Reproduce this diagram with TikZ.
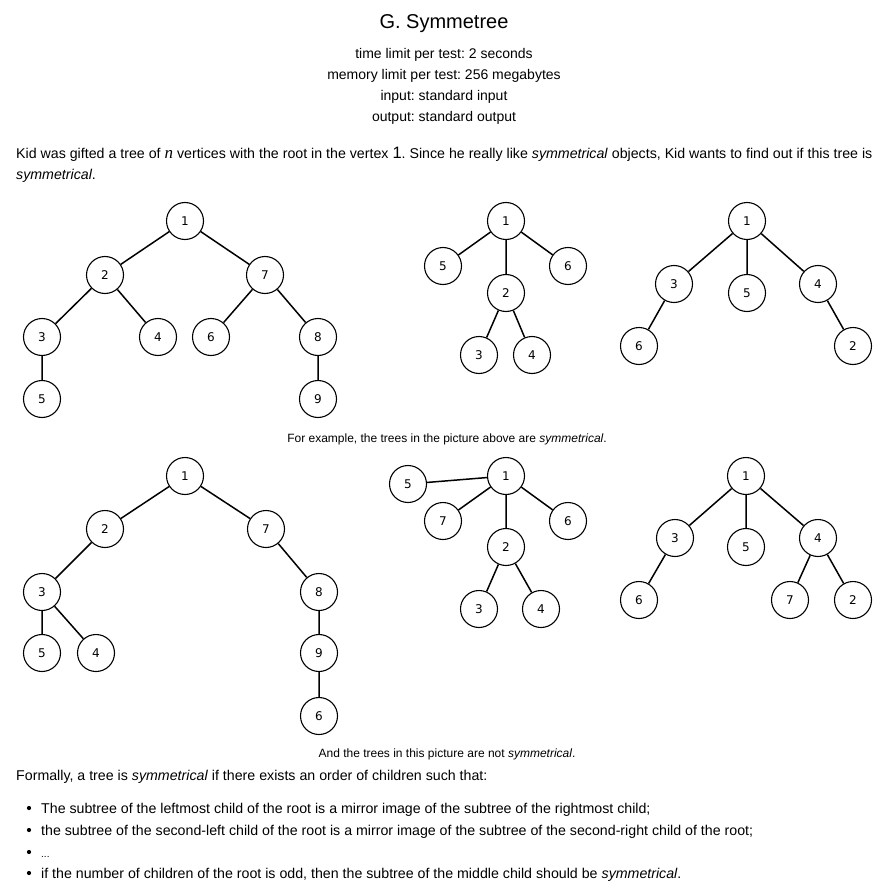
\documentclass[tikz,border=0pt]{standalone}
\usepackage{fontspec}
\setmainfont{Liberation Sans}
\newfontfamily\vfont{DejaVu Sans}
\newfontfamily\nfont{Liberation Serif}
\frenchspacing
\begin{document}
\begin{tikzpicture}[x=1pt,y=-1pt,
  vtx/.style={circle, draw, line width=1.1pt, minimum size=37pt, inner sep=0pt, font=\vfont\fontsize{12}{12}\selectfont},
  edge/.style={line width=1.5pt},
  bodytext/.style={anchor=base west, inner sep=0pt, font=\fontsize{14.2}{16}\selectfont},
  captext/.style={anchor=base, inner sep=0pt, font=\fontsize{12}{13}\selectfont},
  headtext/.style={anchor=base, inner sep=0pt, font=\fontsize{14}{15}\selectfont}]
\useasboundingbox (0,0) rectangle (889,893);
% header
\node[anchor=base, inner sep=0pt, font=\fontsize{20}{22}\selectfont] (title) at (444,29) {G. Symmetree};
\node[headtext] (tl) at (444,59) {time limit per test: 2 seconds};
\node[headtext] (ml) at (444,80) {memory limit per test: 256 megabytes};
\node[headtext] (in) at (444,101) {input: standard input};
\node[headtext] (out) at (444,122) {output: standard output};
\node[bodytext] (p1) at (16,159) {Kid was gifted a tree of {\nfont\itshape\fontsize{17}{16}\selectfont n} vertices with the root in the vertex {\fontsize{16.5}{16}\selectfont 1}. Since he really like \textit{symmetrical} objects, Kid wants to find out if this tree is};
\node[bodytext] (p2) at (16,180) {\textit{symmetrical}.};

% tree A
\node[vtx] (a1) at (185,221) {1};
\node[vtx] (a2) at (105,275) {2};
\node[vtx] (a7) at (265,275) {7};
\node[vtx] (a3) at (42,337) {3};
\node[vtx] (a4) at (158,337) {4};
\node[vtx] (a6) at (211,337) {6};
\node[vtx] (a8) at (318,337) {8};
\node[vtx] (a5) at (42,399) {5};
\node[vtx] (a9) at (318,399) {9};
\draw[edge] (a1)--(a2) (a1)--(a7) (a2)--(a3) (a2)--(a4) (a7)--(a6) (a7)--(a8) (a3)--(a5) (a8)--(a9);

% tree B
\node[vtx] (b1) at (506,221) {1};
\node[vtx] (b5) at (443,266) {5};
\node[vtx] (b6) at (568,266) {6};
\node[vtx] (b2) at (506,293) {2};
\node[vtx] (b3) at (479,355) {3};
\node[vtx] (b4) at (532,355) {4};
\draw[edge] (b1)--(b5) (b1)--(b6) (b1)--(b2) (b2)--(b3) (b2)--(b4);

% tree C
\node[vtx] (c1) at (747,221) {1};
\node[vtx] (c3) at (674,284) {3};
\node[vtx] (c5) at (747,293) {5};
\node[vtx] (c4) at (818,284) {4};
\node[vtx] (c6) at (639,346) {6};
\node[vtx] (c2) at (853,346) {2};
\draw[edge] (c1)--(c3) (c1)--(c5) (c1)--(c4) (c3)--(c6) (c4)--(c2);

\node[captext] (cap1) at (447,442) {For example, the trees in the picture above are \textit{symmetrical}.};

% tree D
\node[vtx] (d1) at (185,476) {1};
\node[vtx] (d2) at (105,529) {2};
\node[vtx] (d7) at (266,529) {7};
\node[vtx] (d3) at (42,592) {3};
\node[vtx] (d8) at (319,592) {8};
\node[vtx] (d5) at (42,653) {5};
\node[vtx] (d4) at (96,653) {4};
\node[vtx] (d9) at (319,653) {9};
\node[vtx] (d6) at (319,716) {6};
\draw[edge] (d1)--(d2) (d1)--(d7) (d2)--(d3) (d3)--(d5) (d3)--(d4) (d7)--(d8) (d8)--(d9) (d9)--(d6);

% tree E
\node[vtx] (e1) at (506,476) {1};
\node[vtx] (e5) at (408,484) {5};
\node[vtx] (e7) at (443,521) {7};
\node[vtx] (e6) at (568,521) {6};
\node[vtx] (e2) at (506,547) {2};
\node[vtx] (e3) at (479,609) {3};
\node[vtx] (e4) at (541,609) {4};
\draw[edge] (e1)--(e5) (e1)--(e7) (e1)--(e6) (e1)--(e2) (e2)--(e3) (e2)--(e4);

% tree F
\node[vtx] (f1) at (746,476) {1};
\node[vtx] (f3) at (675,538) {3};
\node[vtx] (f5) at (746,547) {5};
\node[vtx] (f4) at (818,538) {4};
\node[vtx] (f6) at (639,600) {6};
\node[vtx] (f7) at (790,600) {7};
\node[vtx] (f2) at (853,600) {2};
\draw[edge] (f1)--(f3) (f1)--(f5) (f1)--(f4) (f3)--(f6) (f4)--(f7) (f4)--(f2);

\node[captext] (cap2) at (447,757) {And the trees in this picture are not \textit{symmetrical}.};

\node[bodytext] (form) at (16,780) {Formally, a tree is \textit{symmetrical} if there exists an order of children such that:};
\node[bodytext] (l1) at (41,813) {The subtree of the leftmost child of the root is a mirror image of the subtree of the rightmost child;};
\node[bodytext] (l2) at (41,835) {the subtree of the second-left child of the root is a mirror image of the subtree of the second-right child of the root;};
\node[bodytext, font=\fontsize{10}{12}\selectfont] (l3) at (41,857) {...};
\node[bodytext] (l4) at (41,878) {if the number of children of the root is odd, then the subtree of the middle child should be \textit{symmetrical}.};
\foreach \yy/\nm in {808/u1,830/u2,852/u3,873/u4}
  \fill (29,\yy) circle (2.1pt) coordinate (\nm);
\end{tikzpicture}
\end{document}
